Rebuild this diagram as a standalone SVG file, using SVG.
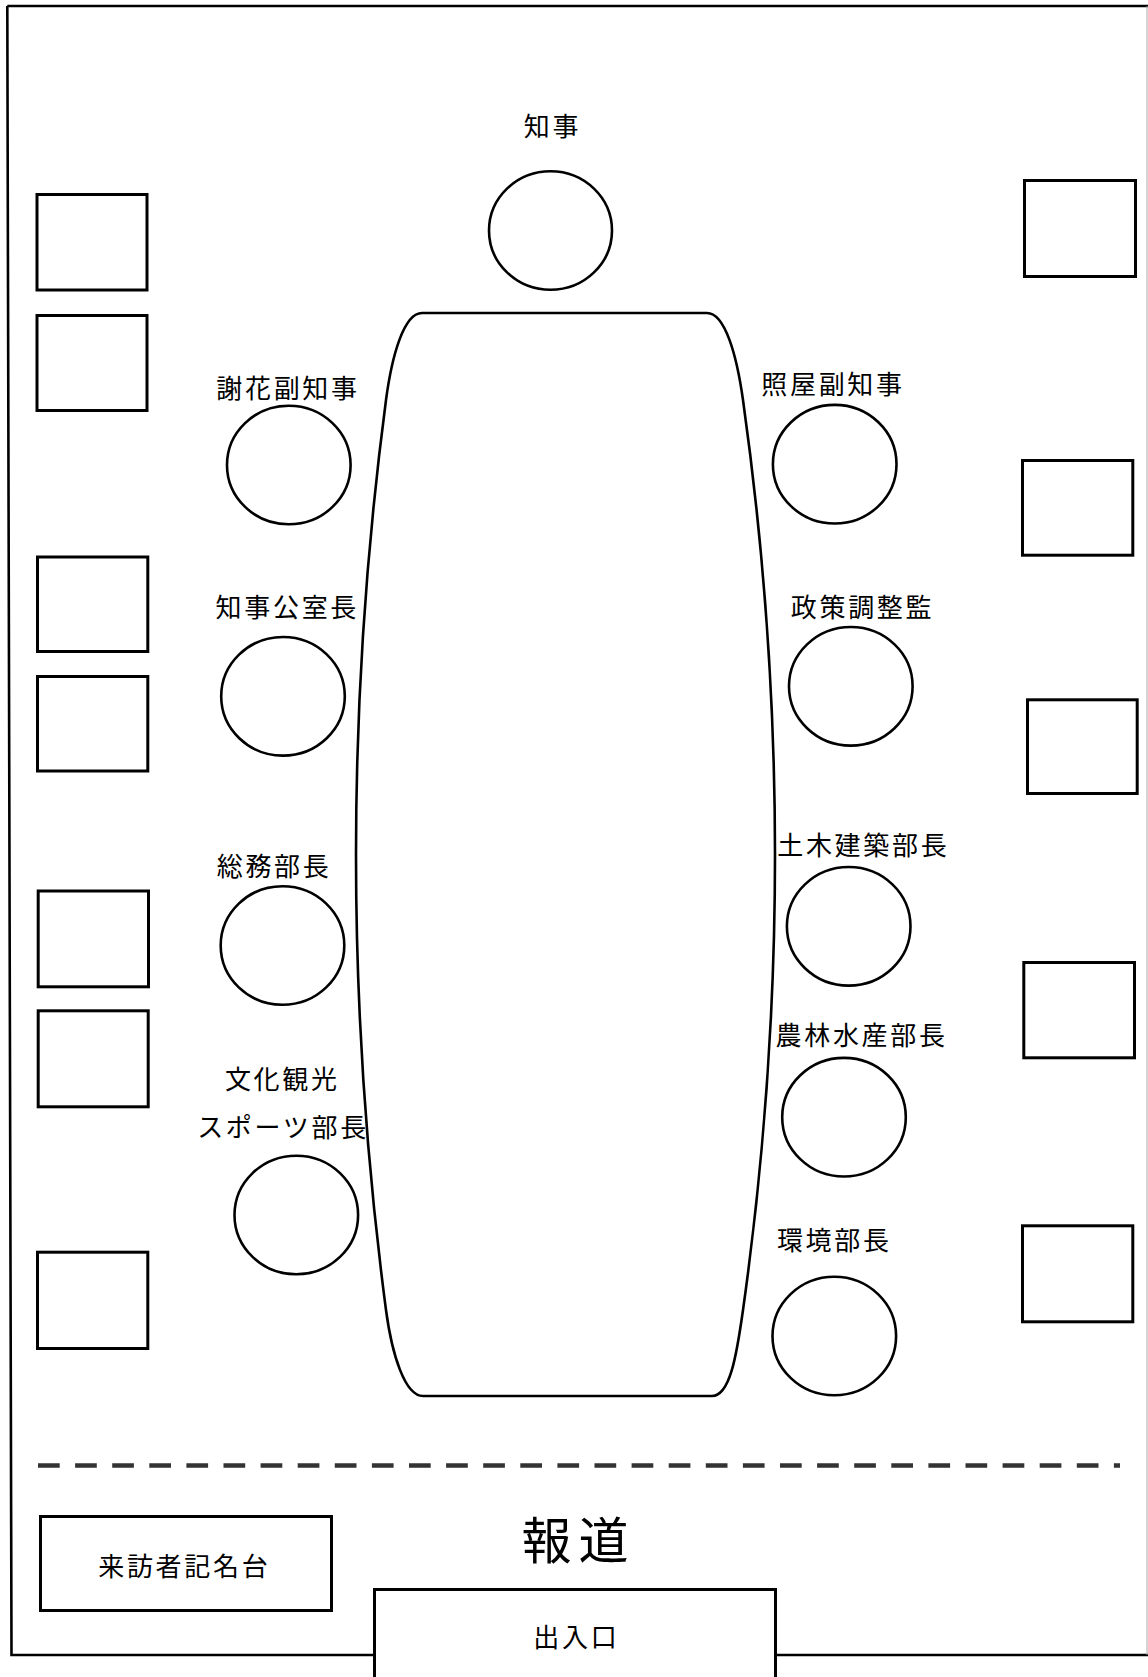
<svg xmlns="http://www.w3.org/2000/svg" width="1148" height="1677" viewBox="0 0 1148 1677">
<style>
.ln{fill:none;stroke:#000;stroke-width:2.6}
.bx{fill:#fff;stroke:#000;stroke-width:3}
.st{fill:#fff;stroke:#000;stroke-width:2.6}
.t{font-family:"Noto Sans CJK JP","Noto Sans CJK SC",sans-serif;font-size:26px;letter-spacing:2.7px;text-anchor:middle;fill:#000}
.big{font-size:50px;letter-spacing:7px}
</style>
<rect x="0" y="0" width="1148" height="1677" fill="#fff"/>
<g id="frame">
<path class="ln" d="M7.3 6 H1148 M7.3 6 L11.5 1655 H374.5 M775.5 1655 H1148"/>
<line x1="1147" y1="6" x2="1147" y2="1655" stroke="#aaa" stroke-width="1"/>
</g>
<g id="table">
<path class="st" d="M422 313 H707 C725 313 736.7 355 743 400 Q807 855 743 1310 C736.7 1355 730 1396 712 1396 H423 C405 1396 392 1355 386 1310 Q326 855 386 400 C392 355 404 313 422 313 Z"/>
</g>
<g id="partition">
<line x1="38" y1="1465.5" x2="1120" y2="1465.5" stroke="#333" stroke-width="4.5" stroke-dasharray="21.7 15.4"/>
</g>
<g id="chairs-left">
<rect id="box-l1" class="bx" x="37" y="194.5" width="110" height="95.5"/>
<rect id="box-l2" class="bx" x="37" y="315.5" width="110" height="95"/>
<rect id="box-l3" class="bx" x="37.5" y="557" width="110.3" height="94.5"/>
<rect id="box-l4" class="bx" x="37.5" y="676.5" width="110.3" height="94.5"/>
<rect id="box-l5" class="bx" x="38.2" y="891" width="110.3" height="95.8"/>
<rect id="box-l6" class="bx" x="38.2" y="1010.8" width="110" height="96"/>
<rect id="box-l7" class="bx" x="37.5" y="1252.2" width="110.3" height="96.3"/>
</g>
<g id="chairs-right">
<rect id="box-r1" class="bx" x="1024.5" y="180.5" width="111" height="96"/>
<rect id="box-r2" class="bx" x="1022.5" y="460.5" width="110.3" height="94.7"/>
<rect id="box-r3" class="bx" x="1027.5" y="699.8" width="109.7" height="93.7"/>
<rect id="box-r4" class="bx" x="1023.8" y="962.5" width="110.7" height="95.3"/>
<rect id="box-r5" class="bx" x="1022.5" y="1225.8" width="110.3" height="96"/>
</g>
<g id="governor">
<text class="t" x="552.5" y="136">知事</text>
<ellipse class="st" cx="550.5" cy="230.5" rx="61.5" ry="59.3"/>
</g>
<g id="vice-jahana">
<text class="t" x="288" y="398">謝花副知事</text>
<ellipse class="st" cx="288.8" cy="465" rx="61.8" ry="59.3"/>
</g>
<g id="vice-teruya">
<text class="t" x="833" y="394">照屋副知事</text>
<ellipse class="st" cx="834.7" cy="464.2" rx="61.8" ry="59.3"/>
</g>
<g id="chief-office">
<text class="t" x="287.3" y="617">知事公室長</text>
<ellipse class="st" cx="283" cy="696.3" rx="61.8" ry="59.3"/>
</g>
<g id="policy">
<text class="t" x="862.5" y="617">政策調整監</text>
<ellipse class="st" cx="850.8" cy="686.3" rx="61.8" ry="59.3"/>
</g>
<g id="general-affairs">
<text class="t" x="274.1" y="876">総務部長</text>
<ellipse class="st" cx="282.5" cy="945.5" rx="61.8" ry="59.3"/>
</g>
<g id="civil-eng">
<text class="t" x="863.3" y="854.7">土木建築部長</text>
<ellipse class="st" cx="848.7" cy="926.3" rx="61.8" ry="59.3"/>
</g>
<g id="culture">
<text class="t" x="282.3" y="1088.7">文化観光</text>
<text class="t" x="283" y="1137">スポーツ部長</text>
<ellipse class="st" cx="296.3" cy="1215" rx="61.8" ry="59.3"/>
</g>
<g id="agri">
<text class="t" x="861.6" y="1045.4">農林水産部長</text>
<ellipse class="st" cx="844" cy="1117.2" rx="61.8" ry="59.3"/>
</g>
<g id="environment">
<text class="t" x="834.3" y="1249.7">環境部長</text>
<ellipse class="st" cx="834.3" cy="1336" rx="61.8" ry="59.3"/>
</g>
<g id="press">
<text class="t big" x="578.5" y="1558.5">報道</text>
</g>
<g id="reception">
<rect class="bx" x="40.5" y="1516.5" width="291" height="94"/>
<text class="t" x="184.3" y="1575.7">来訪者記名台</text>
</g>
<g id="entrance">
<rect class="bx" x="374.5" y="1589.5" width="401" height="100"/>
<text class="t" x="576.4" y="1646.7">出入口</text>
</g>
</svg>
